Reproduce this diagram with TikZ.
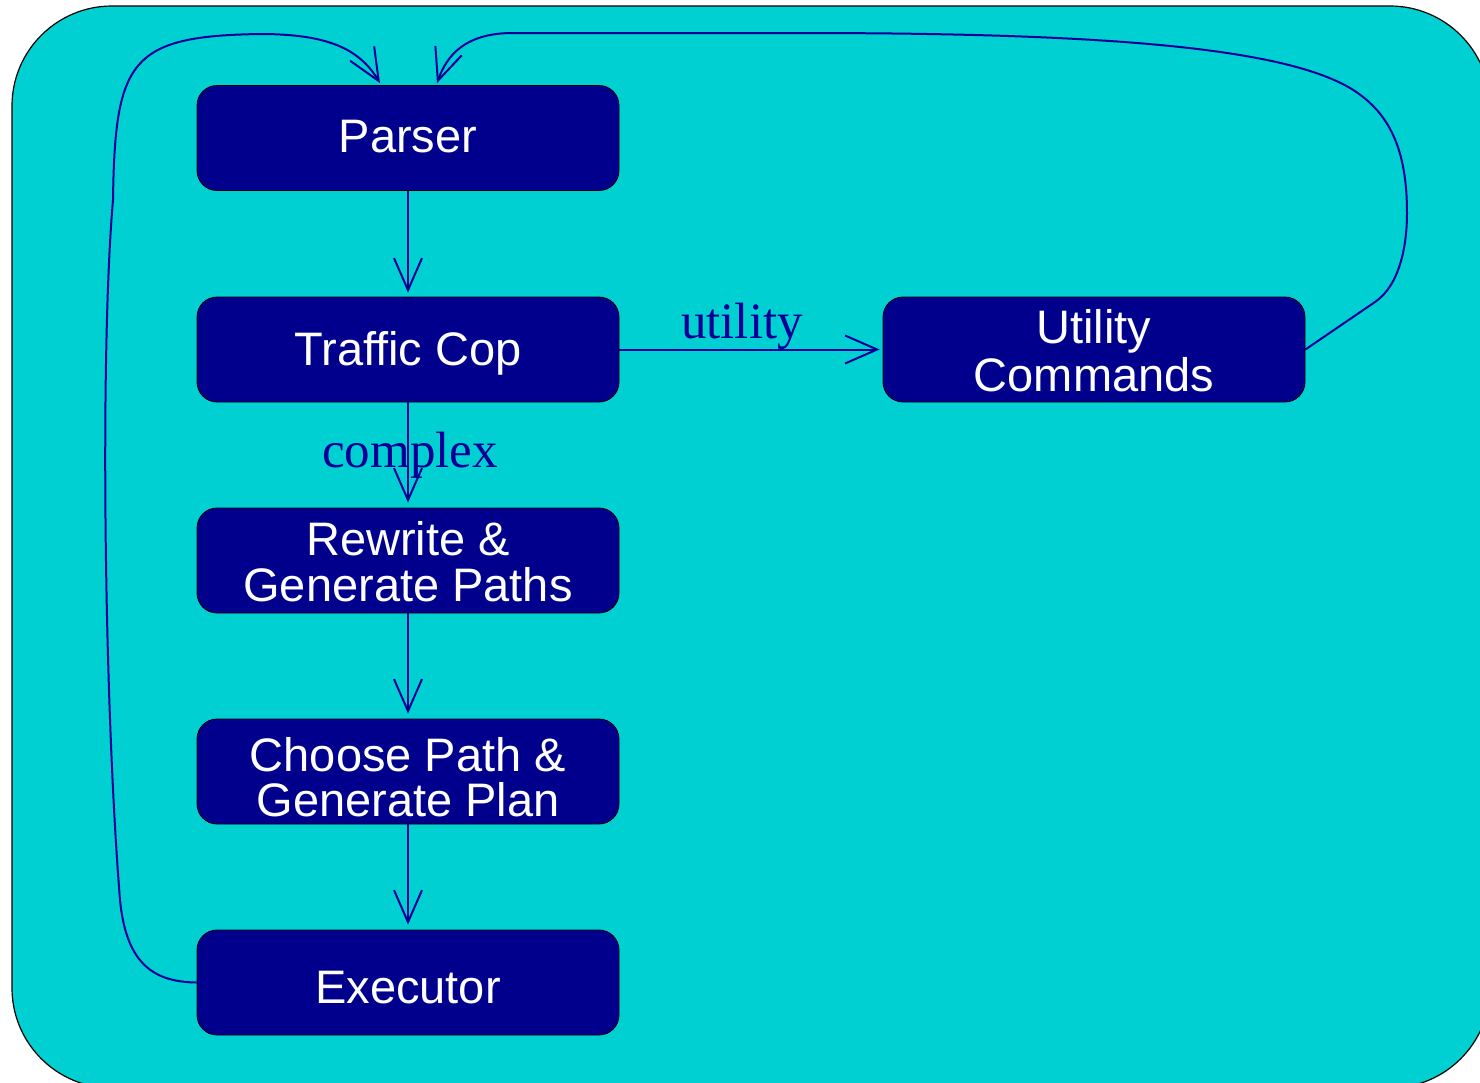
\documentclass[tikz,border=0pt]{standalone}
\usepackage{fontspec}
\setmainfont{Liberation Serif}
\setsansfont{Liberation Sans}
\usetikzlibrary{arrows.meta,calc}
\definecolor{bgcyan}{RGB}{0,208,210}
\definecolor{boxblue}{RGB}{0,0,140}
\definecolor{linenavy}{RGB}{0,0,150}
\newcommand{\stagetext}[3]{\raisebox{#1}[0pt][0pt]{\vbox{\baselineskip=#2\lineskiplimit=-100pt\lineskip=0pt\halign{\hfil##\hfil\cr#3\crcr}}}}
\begin{document}
\begin{tikzpicture}[x=0.5pt,y=-0.5pt,
  stage/.style={draw=black,line width=0.4pt,fill=boxblue,rounded corners=10pt,
    minimum width=211pt,minimum height=52.5pt,inner sep=0pt,text=white,
    font=\sffamily\fontsize{23.5}{24}\selectfont},
  flow/.style={draw=linenavy,line width=1pt,-{Straight Barb[length=16pt,width=14pt]}},
  lbl/.style={text=linenavy,font=\rmfamily\fontsize{25.5}{28}\selectfont,inner sep=0pt,anchor=base}]
\useasboundingbox (0,0) rectangle (1480,1083);
\begin{scope}
\clip (0,0) rectangle (1480,1083);
\path[draw=black,line width=0.6pt,fill=bgcyan,rounded corners=50pt] (12,6) rectangle (1490,1088);
\end{scope}
\node[stage] (parser) at (408,138) {\stagetext{-7.1pt}{24pt}{Parser}};
\node[stage] (cop) at (408,349.5) {\stagetext{-7.75pt}{24pt}{Traffic Cop}};
\node[stage] (rewrite) at (408,560.5) {\stagetext{-20.6pt}{23.35pt}{Rewrite \&\cr Generate Paths}};
\node[stage] (choose) at (408,771.5) {\stagetext{-22.5pt}{22.4pt}{Choose Path \&\cr Generate Plan}};
\node[stage] (exec) at (408,982.5) {\stagetext{-10.25pt}{24pt}{Executor}};
\node[stage] (util) at (1094,349.5) {\stagetext{-21.1pt}{24.3pt}{Utility\cr Commands}};
\draw[flow,shorten >=2pt] (parser) -- (cop);
\draw[flow,shorten >=2.5pt] (cop) -- (rewrite);
\draw[flow,shorten >=2.5pt] (rewrite) -- (choose);
\draw[flow,shorten >=2.5pt] (choose) -- (exec);
\draw[flow,shorten >=1.5pt] (cop) -- (util);
\node[lbl] (lutil) at (742,338) {utility};
\node[lbl] (lcomplex) at (410,467) {complex};
\draw[flow] (exec.west) .. controls (150,982) and (126,960) .. (120,900)
  .. controls (104,700) and (100,350) .. (113,200)
  .. controls (115,60) and (130,36) .. (260,34)
  .. controls (330,34) and (360,50) .. ([xshift=-14pt,yshift=1pt]parser.north);
\draw[flow] (util.east) -- (1375,302) .. controls (1400,285) and (1407,245) .. (1407,213)
  .. controls (1407,150) and (1390,112) .. (1350,88)
  .. controls (1280,47) and (1100,33) .. (800,33) -- (510,33)
  .. controls (465,34) and (447,55) .. ([xshift=14.5pt,yshift=1pt]parser.north);
\end{tikzpicture}
\end{document}
